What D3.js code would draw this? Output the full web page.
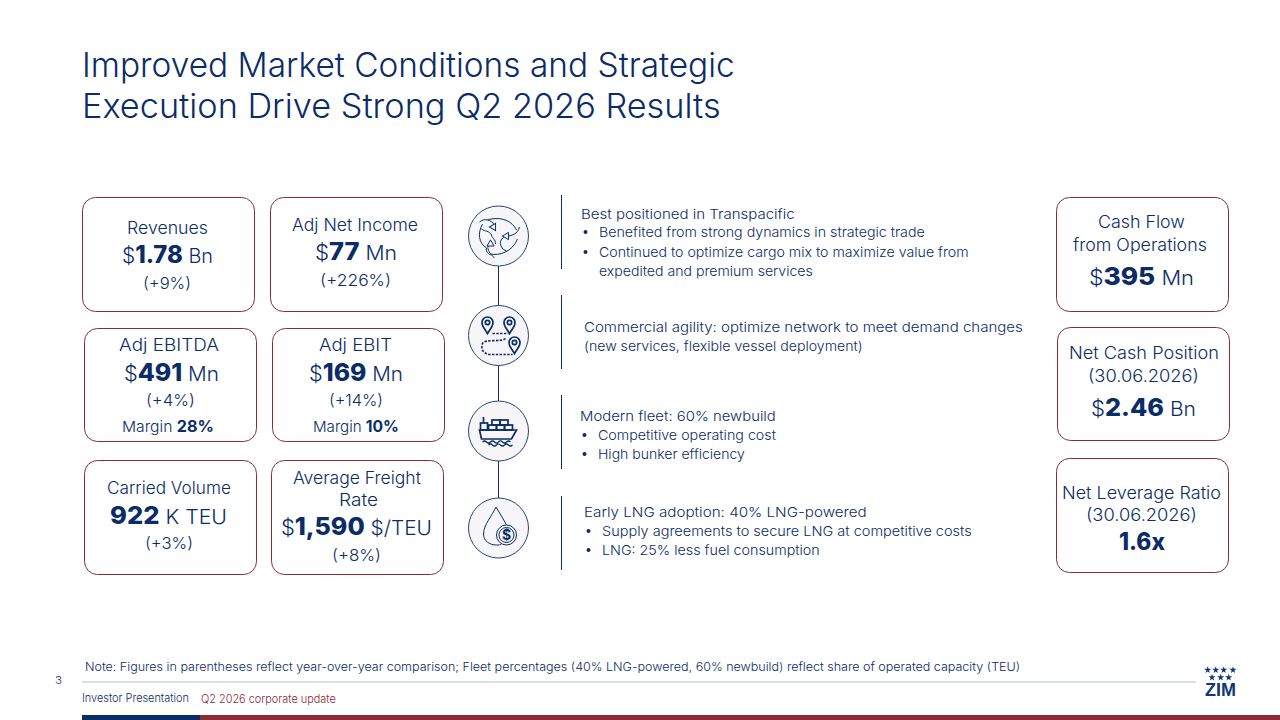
<!DOCTYPE html>
<html><head><meta charset="utf-8">
<script src="https://cdn.jsdelivr.net/npm/d3@7"></script>
<style>
html,body{margin:0;padding:0;background:#fff;overflow:hidden}
svg{display:block}
text{font-family:"Inter","Open Sans",sans-serif;font-weight:300;fill:#0b2c66;white-space:pre}
</style></head><body><svg id="c" width="1280" height="720"></svg>
<script>
// ---- content ----
const titleLines = ["Improved Market Conditions and Strategic","Execution Drive Strong Q2 2026 Results"];
const cardLabels = [["Revenues"],["Adj Net Income"],["Adj EBITDA"],["Adj EBIT"],["Carried Volume"],["Average Freight","Rate"],["Cash Flow","from Operations"],["Net Cash Position","(30.06.2026)"],["Net Leverage Ratio","(30.06.2026)"]];
const cardPrefixes = ["$","$","$","$","","$","$","$",""];
const cardValues = ["1.78","77","491","169","922","1,590","395","2.46","1.6x"];
const cardUnits = [" Bn"," Mn"," Mn"," Mn"," K TEU"," $/TEU"," Mn"," Bn",""];
const cardChanges = ["(+9%)","(+226%)","(+4%)","(+14%)","(+3%)","(+8%)",null,null,null];
const cardMargins = [null,null,"28%","10%",null,null,null,null,null];
const noteText = "Note: Figures in parentheses reflect year-over-year comparison; Fleet percentages (40% LNG-powered, 60% newbuild) reflect share of operated capacity (TEU)";
const footerLeft = "Investor Presentation", footerRight = "Q2 2026 corporate update", pageNumber = "3";
const blockLines = [
 [["Best positioned in Transpacific",0],["Benefited from strong dynamics in strategic trade",1],["Continued to optimize cargo mix to maximize value from",1],["expedited and premium services",2]],
 [["Commercial agility: optimize network to meet demand changes",0],["(new services, flexible vessel deployment)",0]],
 [["Modern fleet: 60% newbuild",0],["Competitive operating cost",1],["High bunker efficiency",1]],
 [["Early LNG adoption: 40% LNG-powered",0],["Supply agreements to secure LNG at competitive costs",1],["LNG: 25% less fuel consumption",1]]
];
// ---- layout (separate from content) ----
const NAVY="#0b2c66", RED="#8c2b33";
const cardBoxes=[[82.5,197.5,172,114],[270.5,197.5,172,114],[84.5,328.5,172,113],[272.5,328.5,172,113],[84.5,460.5,172,114],[271.5,460.5,172,114],[1056.5,197.5,172,114],[1057.5,327.5,172,113],[1056.5,458.5,172,114]];
const cardSpans=[
 [[127,208,234],[122,213,263],[143,191,289]],
 [[292,418,231],[315,397,260],[320,391,286]],
 [[119,219,351],[124,219,381],[146,195,406],[122,214,432]],
 [[319,392,351],[309,403,381],[329,383,406],[313,399,432]],
 [[107,231,494],[110,227,524],[145,193,549]],
 [[293,421,484],[339,378,506],[281,432,535],[332,381,561]],
 [[1098,1185,228],[1073,1207,251],[1089,1194,285]],
 [[1069,1219,359],[1088,1199,382],[1091,1196,416]],
 [[1062,1221,499],[1086,1197,521],[1119,1165,550]]
];
const blockSpans=[
 [[581,795,219],[599,925,237],[599,969,257],[599,813,276]],
 [[584,1023,332],[584,863,351]],
 [[580,776,421],[598,776,440],[598,745,459]],
 [[584,867,517],[602,972,536],[602,820,555]]
];
const rules=[[195,269],[295,369],[395,469],[496,570]];
const circleYs=[236,335.5,431,528];

const svg=d3.select("#c");
function fit(g,x0,x1,y,size,segs,fill,weight){
  const t=g.append("text").attr("font-size",size);
  segs.forEach(s=>t.append("tspan").text(s[0]).attr("font-size",s[1]||size).attr("style",`font-weight:${s[2]||weight||300};`+(fill?`fill:${fill}`:"")));
  const w=t.node().getComputedTextLength();
  t.attr("transform",`translate(${x0},${y}) scale(${(x1-x0)/w},1)`);
  return t;
}
const titleSpans=[[82,735,77],[82,721,118]];
titleLines.forEach((l,i)=>fit(svg,titleSpans[i][0],titleSpans[i][1],titleSpans[i][2],33.5,[[l]]));
cardBoxes.forEach((b,i)=>{
  svg.append("rect").attr("x",b[0]).attr("y",b[1]).attr("width",b[2]).attr("height",b[3]).attr("rx",13).attr("fill","#fff").attr("stroke",RED).attr("stroke-width",1);
  const sp=cardSpans[i]; let k=0;
  cardLabels[i].forEach(l=>{const s=sp[k++];fit(svg,s[0],s[1],s[2],17,[[l]]);});
  const s=sp[k++];
  fit(svg,s[0],s[1],s[2],23,[[cardPrefixes[i],21],[cardValues[i],24,800],[cardUnits[i],20]]);
  if(cardChanges[i]){const c=sp[k++];fit(svg,c[0],c[1],c[2],16,[[cardChanges[i]]]);}
  if(cardMargins[i]){const m=sp[k++];fit(svg,m[0],m[1],m[2],15.5,[["Margin ",15],[cardMargins[i],15.5,700]]);}
});
svg.append("line").attr("x1",498.5).attr("x2",498.5).attr("y1",circleYs[0]).attr("y2",circleYs[3]).attr("stroke",NAVY).attr("stroke-width",1);
rules.forEach(r=>svg.append("line").attr("x1",561.5).attr("x2",561.5).attr("y1",r[0]).attr("y2",r[1]).attr("stroke",NAVY).attr("stroke-width",1));
const icons=circleYs.map(y=>{
  svg.append("circle").attr("cx",498.5).attr("cy",y).attr("r",30).attr("fill","#f6f6f8").attr("stroke","#2a4478").attr("stroke-width",1);
  return svg.append("g").attr("transform",`translate(498.5,${y})`).attr("fill","none").attr("stroke",NAVY).attr("stroke-width",1);
});
// icon 1: globe and curved arrows
["M-19,-14 C-14,-18 -8,-17 -3,-10","M-11,-16 C-2,-19 12,-18 18,-6","M-16,-12 C-21,-3 -20,7 -12,12 C-13,15 -11,17 -8,19","M21,-9 C19,-2 14,0 7,0","M7,0 C0,3 0,12 8,15","M-8,18 C0,20 14,16 19,3","M-9,9 C-12,10 -11,16 -4,22","M-17,-7 C-13,-4 -10,-6 -7,-1 C-6,3 -3,3 -3,8"].forEach(d=>icons[0].append("path").attr("d",d));
[[-5,-9,150],[8,0,-90],[-8,8,0]].forEach(p=>icons[0].append("path").attr("d",d3.symbol(d3.symbolTriangle,22)()).attr("transform",`translate(${p[0]},${p[1]}) rotate(${p[2]})`).attr("fill","#f6f6f8"));
// icon 2: pins + dashed route
const pin="M0,9 C-3,4 -5.5,2 -5.5,-2 A5.5,5.5 0 1 1 5.5,-2 C5.5,2 3,4 0,9Z";
[[-11,-11],[11,-11],[16,9]].forEach(p=>{const g=icons[1].append("g").attr("transform",`translate(${p[0]},${p[1]})`).attr("stroke-width",1.7);g.append("path").attr("d",pin);g.append("circle").attr("cy",-2).attr("r",2.2);});
icons[1].append("path").attr("d","M-6,-2 H10 M7,3 C3,7 -13,3 -16,8 C-18,14 -15,18 -9,19 H14").attr("stroke-width",1.7).attr("stroke-dasharray","2.4 1.4");
// icon 3: ship
const ship=icons[2].attr("stroke-width",1.2);
[[-6.5,-11,8,5],[1.5,-11,8,5],[-10,-6,8,5],[-2,-6,8,5],[6,-6,8,5],[-18,-8,7,7]].forEach(r=>ship.append("rect").attr("x",r[0]).attr("y",r[1]).attr("width",r[2]).attr("height",r[3]).attr("stroke-width",1.7));
ship.append("path").attr("d","M-15,-14 V-8 M-19,-1 H18 L13,8 H-17 Z").attr("stroke-width",1.7);
ship.append("path").attr("d","M-16,11 q2,-2 4,0 t4,0 t4,0 t4,0 t4,0 t4,0 t4,0 M-10,14 q2,-2 4,0 t4,0 t4,0 t4,0 t4,0 t4,0");
// icon 4: drop + dollar
icons[3].append("path").attr("d","M-2.5,-21 C-6,-13 -15,-3 -15,6 C-15,13 -9,17 -2,17 C0,17 2,17 3,16 M-2.5,-21 C1,-15 5,-9 8,-3");
icons[3].append("circle").attr("cx",8).attr("cy",7).attr("r",10).attr("fill","#f6f6f8");
icons[3].append("circle").attr("cx",8).attr("cy",7).attr("r",7.5).attr("fill","#f6f6f8");
icons[3].append("text").attr("x",8).attr("y",12).attr("text-anchor","middle").attr("font-size",14).attr("style","font-weight:700;fill:#0b2c66;stroke:none").text("$");
// text blocks
blockLines.forEach((b,i)=>b.forEach((l,j)=>{
  const s=blockSpans[i][j];
  fit(svg,s[0],s[1],s[2],13.5,[[l[0]]],null,350);
  if(l[1]===1) svg.append("circle").attr("cx",s[0]-13.5).attr("cy",s[2]-5).attr("r",2).attr("fill",NAVY);
}));
// footer
fit(svg,85,1021,671,11.5,[[noteText]],null,350);
svg.append("line").attr("x1",82).attr("x2",1196).attr("y1",682).attr("y2",682).attr("stroke","#b3bfd0").attr("stroke-width",1);
fit(svg,55,62,684,10.5,[[pageNumber]]);
fit(svg,82,189,702,11,[[footerLeft]],null,350);
fit(svg,201,336,703,11,[[footerRight]],RED);
svg.append("rect").attr("x",82).attr("y",715).attr("width",118).attr("height",5).attr("fill",NAVY);
svg.append("rect").attr("x",200).attr("y",715).attr("width",1080).attr("height",5).attr("fill",RED);
// logo
const logoStars=[[1207.7,670],[1215.7,670],[1223.7,670],[1233,670],[1212,677.5],[1220.7,677.5],[1228.7,677.5]];
logoStars.forEach(p=>svg.append("path").attr("d",d3.symbol(d3.symbolStar,16)()).attr("transform",`translate(${p[0]},${p[1]})`).attr("fill","#12357a"));
const z=svg.append("text").attr("font-size",17).attr("style","font-family:'Liberation Sans';font-weight:700;fill:#12357a").text("ZIM");
z.attr("transform",`translate(1205,696) scale(${31/z.node().getComputedTextLength()},1.08)`);
</script></body></html>
